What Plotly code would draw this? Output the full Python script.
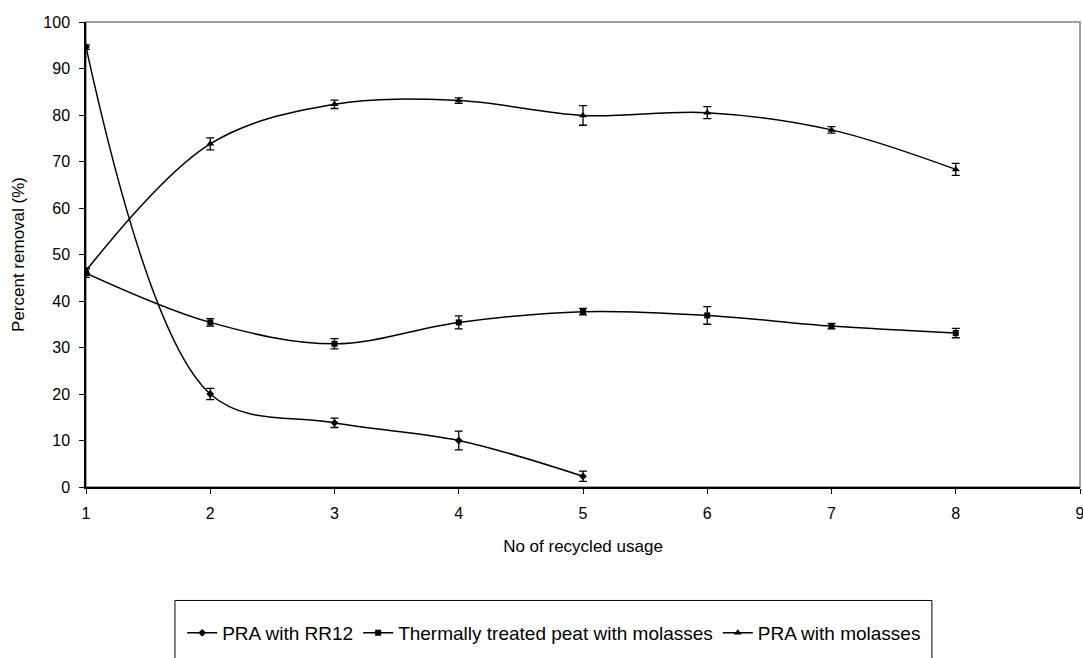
import plotly.graph_objects as go

usage = [1, 2, 3, 4, 5, 6, 7, 8]

rr12_x = [1, 2, 3, 4, 5]
rr12 = [94.6, 20.0, 13.8, 10.0, 2.3]
rr12_err = [0.5, 1.2, 1.0, 2.0, 1.1]

peat = [46.0, 35.4, 30.8, 35.4, 37.7, 36.9, 34.6, 33.1]
peat_err = [0.9, 0.8, 1.1, 1.4, 0.7, 1.9, 0.6, 1.0]

mol = [46.5, 73.8, 82.3, 83.1, 79.9, 80.5, 76.8, 68.3]
mol_err = [0.6, 1.3, 0.9, 0.6, 2.1, 1.3, 0.7, 1.3]

names = ["PRA with RR12", "Thermally treated peat with molasses", "PRA with molasses"]

FONT = "Liberation Sans, Arial, sans-serif"

fig = go.Figure()

def add(xs, ys, errs, name, symbol, size):
    fig.add_trace(go.Scatter(
        x=xs, y=ys, name=name, mode="lines+markers",
        line=dict(color="black", width=1.5, shape="spline", smoothing=1.0),
        marker=dict(symbol=symbol, size=size, color="black"),
        error_y=dict(type="data", array=errs, visible=True,
                     color="black", thickness=1.3, width=4),
    ))

add(rr12_x, rr12, rr12_err, names[0], "diamond", 6)
add(usage, peat, peat_err, names[1], "square", 6)
add(usage, mol, mol_err, names[2], "triangle-up", 7)

# plot frame (gray top/right) and legend box
fig.add_shape(type="rect", xref="paper", yref="paper", x0=0, x1=1, y0=0, y1=1,
              line=dict(color="#808080", width=1.5), layer="below")
fig.add_shape(type="rect", xref="paper", yref="paper", x0=0.0895, x1=0.851,
              y0=-0.40, y1=-0.244, line=dict(color="black", width=1))

fig.update_layout(
    width=1083, height=658,
    margin=dict(l=86, r=3, t=22, b=171),
    plot_bgcolor="white", paper_bgcolor="white",
    font=dict(family=FONT, size=16, color="black"),
    showlegend=True,
    legend=dict(orientation="h", x=0.471, xanchor="center", y=-0.314, yanchor="middle",
                font=dict(size=19, family=FONT), bgcolor="rgba(0,0,0,0)",
                borderwidth=0, itemwidth=30, tracegroupgap=0),
    xaxis=dict(range=[1, 9], dtick=1, tick0=1, showgrid=False, zeroline=False,
               showline=True, linecolor="black", linewidth=1.5,
               ticks="outside", ticklen=5, tickcolor="black", ticklabelstandoff=6,
               ticklabeloverflow="allow", tickfont=dict(size=16), automargin=False,
               title=dict(text="No of recycled usage", font=dict(size=17), standoff=19)),
    yaxis=dict(range=[0, 100], dtick=10, showgrid=False, zeroline=False,
               showline=True, linecolor="black", linewidth=1.5,
               ticks="outside", ticklen=5, tickcolor="black", ticklabelstandoff=6,
               tickfont=dict(size=16), automargin=False,
               title=dict(text="Percent removal (%)", font=dict(size=17), standoff=14)),
)

fig.write_html("out.html", config={"displayModeBar": False},
               post_script="document.body.style.margin='0';document.body.style.overflow='hidden';")
